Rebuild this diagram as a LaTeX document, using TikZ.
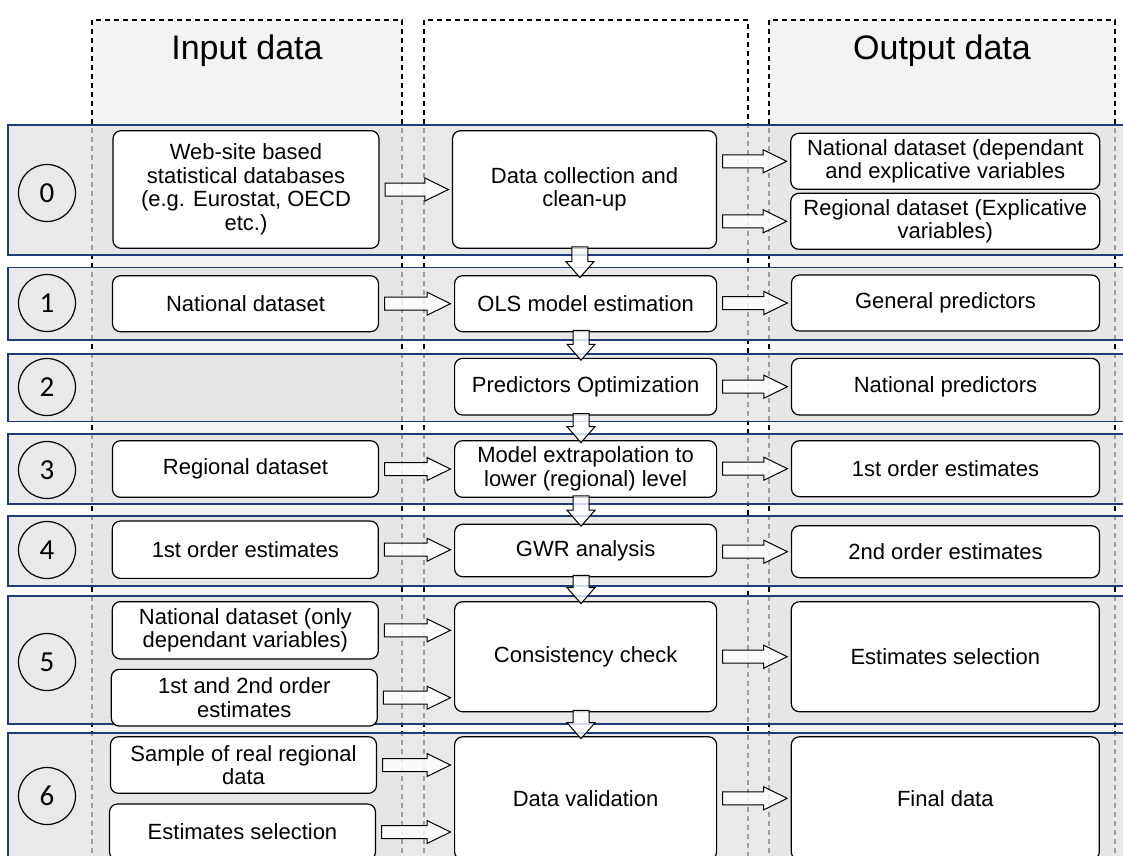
\documentclass[tikz,border=0pt]{standalone}
\usepackage{fontspec}
\setmainfont{Liberation Sans}
\newfontfamily\numfont{Carlito}
\usetikzlibrary{calc}
\definecolor{bandfill}{HTML}{E1E1E1}
\definecolor{colfill}{HTML}{F3F3F3}
\definecolor{navy}{HTML}{1F3B7A}
\tikzset{
 box/.style={draw=black, line width=1.2pt, fill=white, rounded corners=8pt, align=center, inner sep=0pt, font=\fontsize{22}{23.5}\selectfont},
 band/.style={draw=navy, line width=1.4pt, fill=bandfill, fill opacity=0.7},
 colfillstyle/.style={fill=colfill},
 colline/.style={draw=black, line width=1.2pt, dash pattern=on 5pt off 4pt},
 stepnum/.style={circle, draw=black, line width=1.2pt, minimum size=57pt, inner sep=0pt, font=\numfont\fontsize{29}{29}\selectfont},
 fatarrow/.style={draw=black, line width=1pt, fill=white, fill opacity=0.8, line join=miter},
 heading/.style={font=\fontsize{34}{36}\selectfont, anchor=base}
}
% horizontal fat arrow: from #1 to #2, at the height of #3
\newcommand{\harrow}[3]{%
 \path[fatarrow] let \p1=(#1.east), \p2=(#2.west), \p3=(#3.center) in
  (\x1+5.5pt,\y3+6.5pt) -- (\x2-27pt,\y3+6.5pt) -- (\x2-27pt,\y3+11.5pt) -- (\x2-3.5pt,\y3)
  -- (\x2-27pt,\y3-11.5pt) -- (\x2-27pt,\y3-6.5pt) -- (\x1+5.5pt,\y3-6.5pt) -- cycle;}
% vertical fat arrow: from #1 down to #2
\newcommand{\varrow}[2]{%
 \path[fatarrow] let \p1=(#1.south), \p2=(#2.north) in
  (\x1-12.6pt,\y1+2pt) -- (\x1-12.6pt,\y2+13.5pt) -- (\x1-18.6pt,\y2+13.5pt) -- (\x1-4.6pt,\y2-2.5pt)
  -- (\x1+9.4pt,\y2+13.5pt) -- (\x1+3.4pt,\y2+13.5pt) -- (\x1+3.4pt,\y1+2pt) -- cycle;}
\begin{document}
\begin{tikzpicture}[x=1pt,y=-1pt]
\useasboundingbox (0,0) rectangle (1123,855);
\clip (0,0) rectangle (1123,855);
\fill[white] (0,0) rectangle (1123,855);
% columns
\fill[colfillstyle] (92,20) rectangle (402,880);
\fill[colfillstyle] (769,20) rectangle (1115,880);
\draw[colline] (92,880) -- (92,20) -- (402,20) -- (402,880);
\draw[colline] (424,880) -- (424,20) -- (748,20) -- (748,880);
\draw[colline] (769,880) -- (769,20) -- (1115,20) -- (1115,880);
\node[heading] (hin) at (247,59.5) {Input data};
\node[heading] (hout) at (942,59.5) {Output data};
% bands
\path[band] (8,125) rectangle (1140,255);
\path[band] (8,267.3) rectangle (1140,340);
\path[band] (8,354) rectangle (1140,421.7);
\path[band] (8,434) rectangle (1140,504);
\path[band] (8,516) rectangle (1140,586);
\path[band] (8,596) rectangle (1140,724);
\path[band] (8,733) rectangle (1140,880);
% step numbers
\node[stepnum] (c0) at (47,193) {0};
\node[stepnum] (c1) at (47,303) {1};
\node[stepnum] (c2) at (47,387) {2};
\node[stepnum] (c3) at (47,470) {3};
\node[stepnum] (c4) at (47,550) {4};
\node[stepnum] (c5) at (47,662) {5};
\node[stepnum] (c6) at (47,796) {6};
% input boxes
\node[box, minimum width=266pt, minimum height=117.6pt] (in0) at (246,189.5) {Web-site based\\statistical databases\\(e.g. Eurostat, OECD\\etc.)};
\node[box, minimum width=266pt, minimum height=56pt] (in1) at (245.5,303.7) {National dataset};
\node[box, minimum width=266pt, minimum height=56.6pt] (in3) at (245.5,469) {Regional dataset};
\node[box, minimum width=266pt, minimum height=57.3pt] (in4) at (245.3,549.7) {1st order estimates};
\node[box, minimum width=266pt, minimum height=57.3pt] (in5a) at (245.3,630.3) {National dataset (only\\dependant variables)};
\node[box, minimum width=266pt, minimum height=56.7pt] (in5b) at (244.3,697.7) {1st and 2nd order\\estimates};
\node[box, minimum width=266pt, minimum height=56.6pt] (in6a) at (243.5,765) {Sample of real regional\\data};
\node[box, minimum width=266pt, minimum height=56pt] (in6b) at (242.5,832) {Estimates selection};
% middle boxes
\node[box, minimum width=264pt, minimum height=117.6pt] (m0) at (584.5,189.5) {Data collection and\\clean-up};
\node[box, minimum width=262pt, minimum height=56pt] (m1) at (585.6,303.7) {OLS model estimation};
\node[box, minimum width=262pt, minimum height=56.7pt] (m2) at (585.6,386.7) {Predictors Optimization};
\node[box, minimum width=262pt, minimum height=56.6pt] (m3) at (585.6,469) {Model extrapolation to\\lower (regional) level};
\node[box, minimum width=262pt, minimum height=52.4pt] (m4) at (585.6,550.5) {GWR analysis};
\node[box, minimum width=262pt, minimum height=110pt] (m5) at (585.6,656.7) {Consistency check};
\node[box, minimum width=262pt, minimum height=123pt] (m6) at (585.6,798.3) {Data validation};
% output boxes
\node[box, minimum width=309pt, minimum height=56pt] (o0a) at (945.3,161.3) {National dataset (dependant\\and explicative variables};
\node[box, minimum width=309pt, minimum height=56pt] (o0b) at (945.3,221.3) {Regional dataset (Explicative\\variables)};
\node[box, minimum width=308pt, minimum height=56pt] (o1) at (945.5,303) {General predictors};
\node[box, minimum width=308pt, minimum height=56.7pt] (o2) at (945.5,386.7) {National predictors};
\node[box, minimum width=308pt, minimum height=56pt] (o3) at (945.5,468.7) {1st order estimates};
\node[box, minimum width=308pt, minimum height=52pt] (o4) at (945.5,551.7) {2nd order estimates};
\node[box, minimum width=308pt, minimum height=110pt] (o5) at (945.3,656.7) {Estimates selection};
\node[box, minimum width=308pt, minimum height=123pt] (o6) at (945.3,798.3) {Final data};
% horizontal arrows
\harrow{in0}{m0}{in0}
\harrow{in1}{m1}{in1}
\harrow{in3}{m3}{in3}
\harrow{in4}{m4}{in4}
\harrow{in5a}{m5}{in5a}
\harrow{in5b}{m5}{in5b}
\harrow{in6a}{m6}{in6a}
\harrow{in6b}{m6}{in6b}
\harrow{m0}{o0a}{o0a}
\harrow{m0}{o0b}{o0b}
\harrow{m1}{o1}{o1}
\harrow{m2}{o2}{o2}
\harrow{m3}{o3}{o3}
\harrow{m4}{o4}{o4}
\harrow{m5}{o5}{o5}
\harrow{m6}{o6}{o6}
% vertical arrows
\varrow{m0}{m1}
\varrow{m1}{m2}
\varrow{m2}{m3}
\varrow{m3}{m4}
\varrow{m4}{m5}
\varrow{m5}{m6}
\end{tikzpicture}
\end{document}
